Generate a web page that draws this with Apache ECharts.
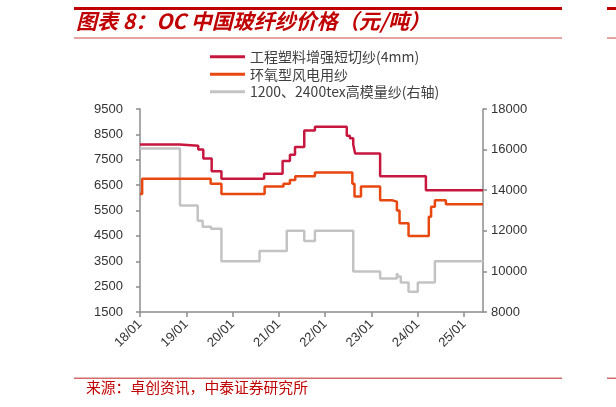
<!DOCTYPE html>
<html><head><meta charset="utf-8">
<script src="https://cdn.jsdelivr.net/npm/echarts@6/dist/echarts.min.js"></script>
<style>html,body{margin:0;padding:0;background:#fff}#c{width:616px;height:407px}</style>
</head><body><div id="c"></div>
<script>
var seriesNames = ['工程塑料增强短切纱(4mm)', '环氧型风电用纱', '1200、2400tex高模量纱(右轴)'];
var xTickLabels = ['18/01','19/01','20/01','21/01','22/01','23/01','24/01','25/01'];
var leftTicks = [1500, 9500, 1000];
var rightTicks = [8000, 18000, 2000];

var redData = [
  ['2018-01-01', 8100], ['2018-11-10', 8050], ['2019-04-05', 7900], ['2019-05-15', 7550],
  ['2019-07-20', 7050], ['2019-10-05', 6750], ['2020-09-06', 6950], ['2021-01-30', 7450],
  ['2021-03-29', 7700], ['2021-05-08', 8000], ['2021-07-20', 8650], ['2021-10-12', 8800],
  ['2022-06-20', 8450], ['2022-07-15', 8350], ['2022-08-10', 8100], ['2022-08-25', 7750],
  ['2023-03-10', 6850], ['2024-03-05', 6300], ['2025-05-30', 6300]
];
var orangeData = [
  ['2018-01-01', 6150], ['2018-01-18', 6750], ['2019-07-12', 6550], ['2019-10-05', 6150],
  ['2020-09-10', 6450], ['2021-02-06', 6550], ['2021-03-29', 6700], ['2021-05-10', 6850],
  ['2021-10-12', 7000], ['2022-08-03', 6550], ['2022-08-20', 6050], ['2022-10-10', 6450],
  ['2023-03-10', 5900], ['2023-06-15', 5850], ['2023-07-20', 5500], ['2023-08-10', 5000],
  ['2023-10-20', 4500], ['2024-03-28', 5250], ['2024-04-15', 5650], ['2024-05-15', 5900],
  ['2024-08-10', 5750], ['2025-05-30', 5750]
];
var grayData = [
  ['2018-01-01', 16050], ['2018-11-12', 13250], ['2019-04-01', 12500], ['2019-05-10', 12200],
  ['2019-07-15', 12100], ['2019-10-05', 10500], ['2020-08-01', 11000], ['2021-03-04', 12000],
  ['2021-07-20', 11500], ['2021-10-12', 12000], ['2022-08-10', 10000], ['2023-03-10', 9650],
  ['2023-07-20', 9900], ['2023-08-01', 9750], ['2023-08-20', 9450], ['2023-10-20', 9000],
  ['2024-01-01', 9450], ['2024-05-15', 10500], ['2025-05-30', 10500]
];
var xStart = '2018-01-01', xEnd = '2025-05-30';

function toYear(s) {
  var p = s.split('-').map(Number);
  var y = p[0];
  var start = Date.UTC(y, 0, 1), next = Date.UTC(y + 1, 0, 1);
  return y + (Date.UTC(y, p[1] - 1, p[2]) - start) / (next - start);
}
function conv(arr) { return arr.map(function (d) { return [toYear(d[0]), d[1]]; }); }
function plain(v) { return String(v); }

var FONT = 'Liberation Sans, Arial, sans-serif';
var CJK = '"Noto Sans CJK SC", sans-serif';
var axisColor = '#8c8c8c';

var chart = echarts.init(document.getElementById('c'));
chart.setOption({
  animation: false,
  backgroundColor: '#fff',
  grid: { left: 140, right: 133, top: 109, bottom: 95 },
  legend: {
    orient: 'vertical', left: 205, top: 44.5,
    icon: 'rect', itemWidth: 35, itemHeight: 3, itemGap: 3,
    textStyle: { fontFamily: CJK, fontSize: 14, color: '#404040', lineHeight: 14.5 },
    data: seriesNames
  },
  xAxis: {
    type: 'value', min: toYear(xStart), max: toYear(xEnd), interval: 1,
    axisLine: { lineStyle: { color: axisColor, width: 1.5 } },
    axisTick: { show: true, length: 5, lineStyle: { color: axisColor, width: 1.5 } },
    splitLine: { show: false },
    axisLabel: {
      rotate: 45, margin: 10, fontFamily: FONT, fontSize: 13, color: '#333',
      showMaxLabel: false,
      formatter: function (v) {
        var i = Math.round(v) - 2018;
        return Math.abs(v - Math.round(v)) < 1e-6 && xTickLabels[i] ? xTickLabels[i] : '';
      }
    }
  },
  yAxis: [
    {
      type: 'value', min: leftTicks[0], max: leftTicks[1], interval: leftTicks[2],
      axisLine: { show: true, lineStyle: { color: axisColor, width: 1.5 } },
      axisTick: { show: true, length: 4, lineStyle: { color: axisColor, width: 1.5 } },
      splitLine: { show: false },
      axisLabel: { margin: 17, fontFamily: FONT, fontSize: 13, color: '#333', formatter: plain }
    },
    {
      type: 'value', min: rightTicks[0], max: rightTicks[1], interval: rightTicks[2],
      axisLine: { show: true, lineStyle: { color: axisColor, width: 1.5 } },
      axisTick: { show: true, length: 4, lineStyle: { color: axisColor, width: 1.5 } },
      splitLine: { show: false },
      axisLabel: { margin: 8, fontFamily: FONT, fontSize: 13, color: '#333', formatter: plain }
    }
  ],
  series: [
    { name: seriesNames[0], type: 'line', step: 'end', symbol: 'none', yAxisIndex: 0,
      data: conv(redData), lineStyle: { color: '#C8173F', width: 2.5 }, itemStyle: { color: '#C8173F' }, z: 4 },
    { name: seriesNames[1], type: 'line', step: 'end', symbol: 'none', yAxisIndex: 0,
      data: conv(orangeData), lineStyle: { color: '#E8470F', width: 2.5 }, itemStyle: { color: '#E8470F' }, z: 3 },
    { name: seriesNames[2], type: 'line', step: 'end', symbol: 'none', yAxisIndex: 1,
      data: conv(grayData), lineStyle: { color: '#C3C3C3', width: 2.5 }, itemStyle: { color: '#C3C3C3' }, z: 2 }
  ],
  graphic: [
    { type: 'rect', shape: { x: 74, y: 7, width: 488, height: 3 }, style: { fill: '#C00000' } },
    { type: 'rect', shape: { x: 607, y: 7, width: 9, height: 3 }, style: { fill: '#C00000' } },
    { type: 'text', left: 76, top: 11, style: { text: '图表 8：OC 中国玻纤纱价格（元/吨）', fill: '#C00000',
      font: 'italic bold 21px "Noto Sans CJK SC", sans-serif' } },
    { type: 'rect', shape: { x: 74, y: 37.3, width: 488, height: 1.5 }, style: { fill: '#E08585' } },
    { type: 'rect', shape: { x: 607, y: 37.3, width: 9, height: 1.5 }, style: { fill: '#E08585' } },
    { type: 'rect', shape: { x: 74, y: 377.5, width: 488, height: 1.5 }, style: { fill: '#D46A6A' } },
    { type: 'rect', shape: { x: 607, y: 377.5, width: 9, height: 1.5 }, style: { fill: '#D46A6A' } },
    { type: 'text', left: 86, top: 380, style: { text: '来源：卓创资讯，中泰证券研究所', fill: '#C00000',
      font: '14.8px "Noto Sans CJK SC", sans-serif' } }
  ]
});
</script></body></html>
